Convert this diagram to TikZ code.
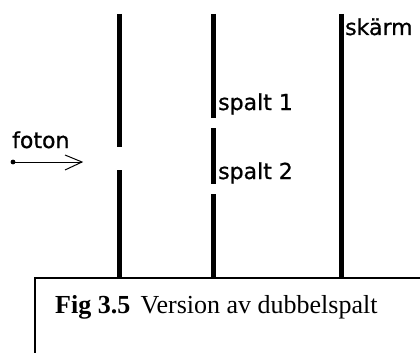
\documentclass[tikz,border=0pt]{standalone}
\usepackage{fontspec}
\setmainfont{Liberation Serif}
\newfontfamily\lblfont[FakeBold=0.8]{DejaVu Sans}
\usetikzlibrary{calc}
\tikzset{
  wall/.style={line width=5pt, line cap=butt},
  lbl/.style={anchor=base west, inner sep=0pt, font=\lblfont\fontsize{22}{24}\selectfont},
  capbox/.style={draw, line width=1.3pt},
  ray/.style={line width=1pt},
}
\begin{document}
\begin{tikzpicture}[x=1pt,y=-1pt]
\useasboundingbox (0,0) rectangle (420,353);
\clip (0,0) rectangle (420,353);
\fill[white] (0,0) rectangle (420,353);
% first wall with one opening
\draw[wall] (119.5,14) -- (119.5,147);
\draw[wall] (119.5,170) -- (119.5,280);
% second wall with two slits
\draw[wall] (213.5,14) -- (213.5,118);
\draw[wall] (213.5,128) -- (213.5,184);
\draw[wall] (213.5,194) -- (213.5,280);
% screen
\draw[wall] (341,14) -- (341,280);
% labels
\node[lbl] (skarm) at (345,35) {skärm};
\node[lbl] (spalt1) at (218,110) {spalt 1};
\node[lbl] (spalt2) at (218,179) {spalt 2};
\node[lbl] (foton) at (12,148) {foton};
% photon
\coordinate (src) at (13,162);
\coordinate (tip) at (82,162);
\fill (src) circle (2.4);
\draw[ray] (src) -- (tip);
\draw[ray] ($(tip)+(-17,-7)$) -- (tip) -- ($(tip)+(-17,8)$);
% caption box
\draw[capbox, fill=white] (35,278) rectangle (440,370);
\node[anchor=base west, inner sep=0pt, font=\fontsize{26}{30}\selectfont] (cap) at (55,313) {\textbf{Fig 3.5}\hspace{0.4em}Version av dubbelspalt};
\end{tikzpicture}
\end{document}
